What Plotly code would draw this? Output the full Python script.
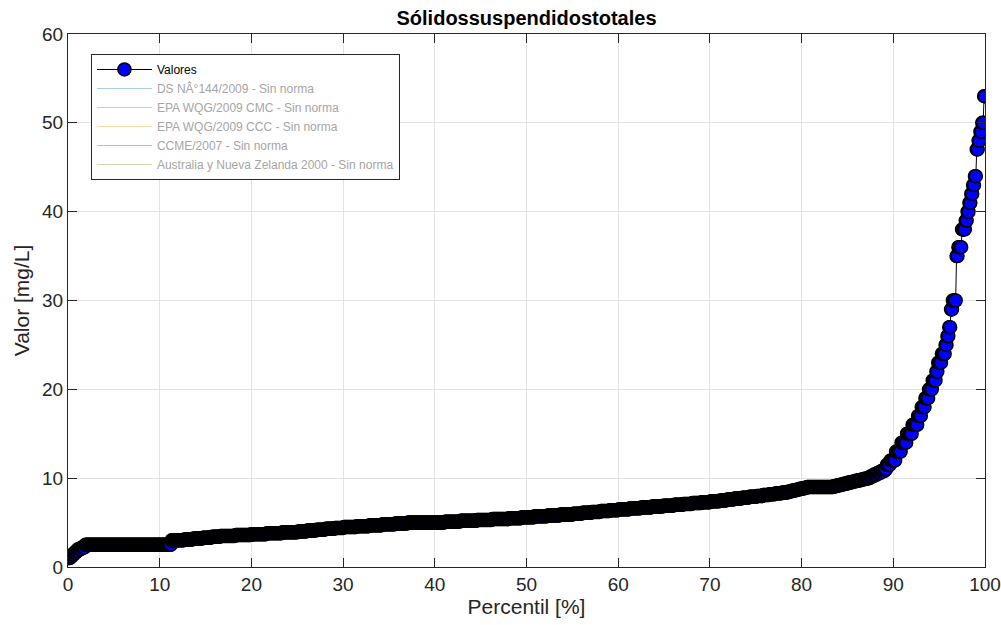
import numpy as np
import plotly.graph_objects as go

# Sorted sample values [mg/L] and how many samples share each value
valores = [1.0, 1.2, 1.4, 1.6, 1.8, 2.0, 2.2, 2.5,
           3.0, 3.1, 3.2, 3.3, 3.4, 3.5, 3.6, 3.7, 3.8, 3.9,
           4.0, 4.1, 4.2, 4.3, 4.4, 4.5, 4.6, 4.7, 4.8, 4.9,
           5.0, 5.1, 5.2, 5.3, 5.4, 5.5, 5.6, 5.7, 5.8, 5.9,
           6.0, 6.1, 6.2, 6.3, 6.4, 6.5, 6.6, 6.7, 6.8, 6.9,
           7.0, 7.1, 7.2, 7.3, 7.4, 7.5, 7.6, 7.7, 7.8, 7.9,
           8.0, 8.1, 8.2, 8.3, 8.4, 8.5, 8.6, 8.7, 8.8, 8.9,
           9.0, 9.1, 9.2, 9.3, 9.4, 9.5, 9.6, 9.7, 9.8, 9.9,
           10.0, 10.2, 10.4, 10.6, 10.8, 11.0,
           11.5, 12, 13, 14, 15, 16, 17, 18, 19,
           20, 21, 22, 23, 24, 25, 26, 27, 29, 30, 35, 36, 38, 39,
           40, 41, 42, 43, 44, 47, 48, 49, 50, 53]
conteos = [2, 2, 2, 2, 2, 4, 4, 94,
           14, 10, 10, 10, 9, 17, 17, 17, 17, 17,
           10, 10, 10, 10, 10, 14, 14, 14, 14, 14,
           40, 17, 18, 17, 18, 14, 14, 14, 14, 14,
           10, 10, 10, 10, 10, 12, 12, 12, 12, 12,
           10, 10, 10, 10, 10, 8, 8, 8, 8, 8,
           7, 7, 7, 7, 7, 4, 4, 4, 4, 4,
           29, 4, 4, 4, 4, 4, 4, 4, 4, 4,
           4, 4, 4, 4, 4, 2,
           4, 6, 6, 6, 6, 6, 4, 4, 4,
           4, 4, 2, 4, 4, 2, 2, 2, 2, 4, 2, 4, 4, 2,
           2, 2, 2, 2, 2, 2, 2, 2, 2, 2]

# Reference guidelines (none applies to this parameter)
normas = ["DS NÂ°144/2009 - Sin norma",
          "EPA WQG/2009 CMC - Sin norma",
          "EPA WQG/2009 CCC - Sin norma",
          "CCME/2007 - Sin norma",
          "Australia y Nueva Zelanda 2000 - Sin norma"]
colores_normas = ["#a9cde6", "#f1bfa3", "#f5dca6", "#cdb0d3", "#cadcab"]

x_ticks = list(range(0, 101, 10))
y_ticks = list(range(0, 61, 10))

y = np.repeat(valores, conteos)
n = len(y)
percentil = 100.0 * np.arange(1, n + 1) / n

FONT = "Liberation Sans, Arial, sans-serif"

fig = go.Figure()
fig.add_trace(go.Scatter(
    x=percentil, y=y, mode="lines+markers", name="Valores",
    line=dict(color="black", width=1),
    marker=dict(size=13, color="#0000ff", line=dict(color="black", width=1.5)),
))
for nombre, col in zip(normas, colores_normas):
    fig.add_trace(go.Scatter(
        x=[None], y=[None], mode="lines",
        name=f"<span style='color:#a6a6a6'>{nombre}</span>",
        line=dict(color=col, width=1),
    ))

axis_common = dict(
    showline=True, linecolor="#262626", linewidth=1, mirror="ticks",
    ticks="inside", ticklen=9, tickcolor="#262626", tickwidth=1,
    showgrid=True, gridcolor="#e3e3e3", gridwidth=1, zeroline=False,
    automargin=False,
    tickfont=dict(family=FONT, size=19, color="#262626"),
    title_font=dict(family=FONT, size=21, color="#262626"),
)

fig.update_layout(
    width=1001, height=625,
    margin=dict(l=68, r=16, t=34, b=58),
    paper_bgcolor="white", plot_bgcolor="white",
    title=dict(text="<b>Sólidossuspendidostotales</b>", x=0.526, xanchor="center",
               y=1 - 18 / 625, yanchor="middle", yref="container",
               font=dict(family=FONT, size=20, color="black")),
    xaxis=dict(range=[0, 100], tickvals=x_ticks, title=dict(text="Percentil [%]", standoff=2),
               **axis_common),
    yaxis=dict(range=[0, 60], tickvals=y_ticks, title=dict(text="Valor [mg/L]", standoff=6),
               **axis_common),
    legend=dict(x=0.025, y=0.9625, xanchor="left", yanchor="top",
                bgcolor="white", bordercolor="#262626", borderwidth=1,
                font=dict(family=FONT, size=12, color="black"),
                itemwidth=55, tracegroupgap=0),
    showlegend=True,
)

fig.write_html("out.html")
